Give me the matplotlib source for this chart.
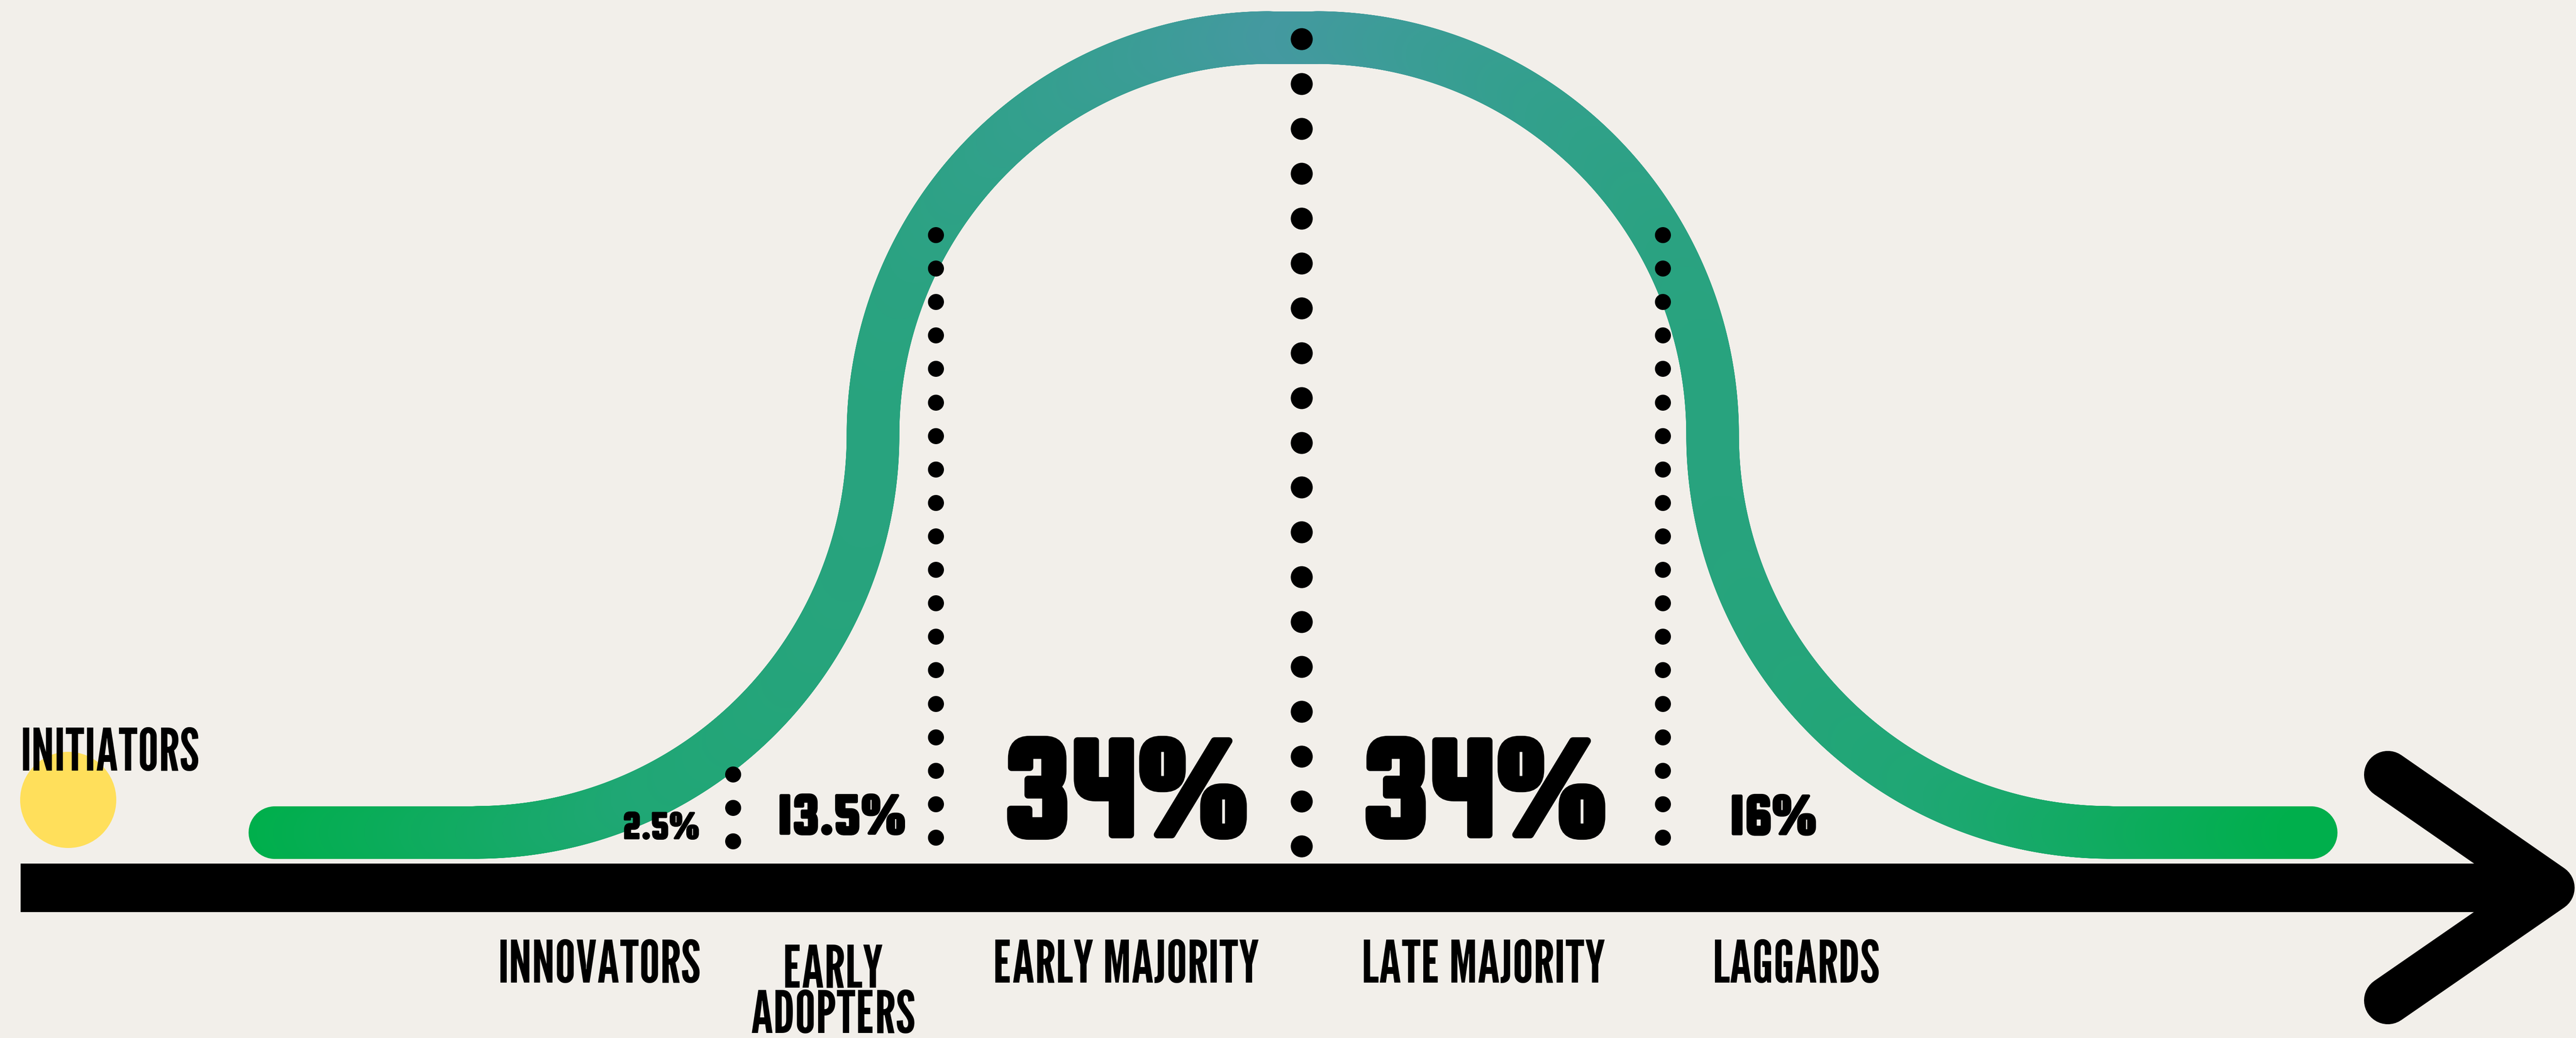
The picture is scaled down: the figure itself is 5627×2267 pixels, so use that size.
import numpy as np
import matplotlib
matplotlib.use("Agg")
import matplotlib.pyplot as plt
import matplotlib.patheffects as pe
from matplotlib.collections import LineCollection
from matplotlib.colors import LinearSegmentedColormap
from matplotlib.patches import Circle


### Data

categories = ["INNOVATORS", "EARLY\nADOPTERS", "EARLY MAJORITY", "LATE MAJORITY", "LAGGARDS"]
shares = [2.5, 13.5, 34, 34, 16]
start_label = "INITIATORS"

### Layout (pixel coords, y grows downward)

W, H = 5627, 2267
DPI = 100
BG = "#F2EFEA"

label_x = [1310, 1820, 2460, 3241, 3924]
pct_x = [1444, 1838, 2460, 3243, 3873]
pct_base = [1831, 1820, 1823, 1823, 1821]
pct_size = [62, 92, 228, 228, 92]

sep_x = [1601, 2044, 2843, 3632]
sep_top = [1691, 513, 85, 513]
sep_bottom = [1837, 1829, 1848, 1829]
sep_count = [3, 19, 19, 19]
sep_dot = [35, 35, 48, 35]

# bell band geometry
BASE_Y = 1818
R = 868
MID_X = 2824
TOP_HALF = 49
END_LEFT = 600
BAND_W = 115

grad_pos = [0.0, 0.26, 0.41, 0.64, 1.0]
grad_col = ["#4499A0", "#32A08C", "#28A37E", "#1FA774", "#00AF4C"]

LABEL_FONT = ["League Gothic", "DejaVu Sans"]
PCT_FONT = ["Squada One", "DejaVu Sans"]
LABEL_SIZE = 92
LABEL_BASE = 2146
LINE_STEP = 110


def px(v):
    return v * 72.0 / DPI


def bell_centerline():
    left_v = MID_X - TOP_HALF - R
    t = np.linspace(0, np.pi / 2, 400)
    flat = np.column_stack([np.linspace(END_LEFT, left_v - R, 100), np.full(100, BASE_Y)])
    low = np.column_stack([left_v - R + R * np.sin(t), BASE_Y - R + R * np.cos(t)])
    up = np.column_stack([MID_X - TOP_HALF - R * np.cos(t), BASE_Y - R - R * np.sin(t)])
    top = np.column_stack([np.linspace(MID_X - TOP_HALF, MID_X, 20), np.full(20, BASE_Y - 2 * R)])
    half = np.vstack([flat, low, up, top])
    right = half[::-1].copy()
    right[:, 0] = 2 * MID_X - right[:, 0]
    return np.vstack([half, right])


fig = plt.figure(figsize=(W / DPI, H / DPI), dpi=DPI)
fig.patch.set_facecolor(BG)
ax = fig.add_axes([0, 0, 1, 1])
ax.set_facecolor(BG)
ax.set_xlim(0, W)
ax.set_ylim(H, 0)
ax.axis("off")

# gradient band
pts = bell_centerline()
segs = np.stack([pts[:-1], pts[1:]], axis=1)
mid = segs.mean(axis=1)[:, 0]
tval = np.clip(np.abs(mid - MID_X) / (MID_X - END_LEFT), 0, 1)
cmap = LinearSegmentedColormap.from_list("bell", list(zip(grad_pos, grad_col)))
band = LineCollection(segs, colors=cmap(tval), linewidths=px(BAND_W),
                      capstyle="round", joinstyle="round", zorder=2)
ax.add_collection(band)

# axis arrow
ax.plot([45, 5560], [1939, 1939], color="black", lw=px(106),
        solid_capstyle="butt", zorder=3)
ax.plot([5216, 5572, 5216], [1692, 1939, 2185], color="black", lw=px(104),
        solid_capstyle="round", solid_joinstyle="round", zorder=3)

# dotted separators
for x, y0, y1, n, d in zip(sep_x, sep_top, sep_bottom, sep_count, sep_dot):
    ys = np.linspace(y0, y1, n)
    ax.scatter(np.full(n, x), ys, s=px(d) ** 2, color="black", lw=0, zorder=4)

# initiators marker
ax.add_patch(Circle((149, 1747), 105, color="#FFDF5B", lw=0, zorder=1.5))
ax.text(45, 1683, start_label, ha="left", va="baseline", fontsize=LABEL_SIZE,
        family=LABEL_FONT, color="black", zorder=5)

# percentages (stroked to get the heavy block look)
for x, y, s, v in zip(pct_x, pct_base, pct_size, shares):
    ax.text(x, y, f"{v:g}%", ha="center", va="baseline", fontsize=s,
            family=PCT_FONT, color="black", zorder=5,
            path_effects=[pe.withStroke(linewidth=s * 0.05, foreground="black")])

# category labels (baseline anchors the last line)
for x, name in zip(label_x, categories):
    nl = name.count("\n")
    ax.text(x, LABEL_BASE + nl * LINE_STEP, name, ha="center", va="baseline",
            fontsize=LABEL_SIZE, family=LABEL_FONT, color="black", zorder=5,
            multialignment="center", linespacing=0.8)

fig.savefig("out.png", dpi=DPI, facecolor=BG)
